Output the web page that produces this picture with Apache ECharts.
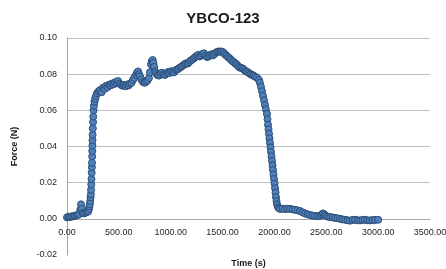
<!DOCTYPE html>
<html>
<head>
<meta charset="utf-8">
<script src="https://cdn.jsdelivr.net/npm/echarts@6/dist/echarts.min.js"></script>
<style>
  html, body { margin: 0; padding: 0; background: #fff; }
  #chart { width: 446px; height: 269px; }
</style>
</head>
<body>
<div id="chart"></div>
<script>
  // readings, one pair of arrays per stretch: time (s), force (N)
  const baseTimes = [0, 15, 30, 45, 60, 75, 90, 105, 118, 128, 135, 142, 150, 165, 180, 195, 205]
  const baseForces = [0.0008, 0.0012, 0.0010, 0.0014, 0.0013, 0.0017, 0.0019, 0.0022, 0.0026, 0.0050, 0.0080, 0.0055, 0.0032, 0.0030, 0.0034, 0.0038, 0.0042]

  const riseTimes = [212, 216, 220, 224, 227, 230, 232, 234, 236, 238, 240, 241, 243, 244, 245, 246, 247, 249, 251, 253, 256, 260, 265, 272, 280]
  const riseForces = [0.0055, 0.0068, 0.0080, 0.0098, 0.0118, 0.0135, 0.0160, 0.0190, 0.0220, 0.0255, 0.0285, 0.0310, 0.0345, 0.0375, 0.0405, 0.0435, 0.0465, 0.0500, 0.0535, 0.0565, 0.0600, 0.0625, 0.0648, 0.0665, 0.0680]

  const plateauTimes = [
    290, 305, 318, 333, 347, 362, 376, 390, 405, 420, 434, 448, 463, 478, 492, 507, 521, 536, 550, 565,
    578, 593, 607, 622, 636, 650, 665, 675, 685, 695, 704, 718, 733, 748, 762, 776, 790, 800, 810, 818,
    826, 833, 841, 850, 858, 872, 887, 901, 916, 930, 945, 960, 974, 988, 1003, 1018, 1032, 1046, 1061, 1075,
    1090, 1104, 1118, 1133, 1147, 1162, 1176, 1190, 1205, 1220, 1234, 1248, 1263, 1278, 1292, 1306, 1321, 1335, 1350, 1365,
    1379, 1394, 1408, 1422, 1437, 1452, 1466, 1480, 1494, 1509, 1523, 1538, 1552, 1567, 1581, 1596, 1610, 1625, 1639, 1654,
    1668, 1683, 1697, 1712, 1726, 1740, 1755, 1770, 1784, 1798, 1813, 1832
  ]
  const plateauForces = [
    0.0695, 0.0705, 0.0712, 0.0700, 0.0725, 0.0718, 0.0735, 0.0728, 0.0742, 0.0738, 0.0748, 0.0744, 0.0755, 0.0750, 0.0762, 0.0748, 0.0741, 0.0736, 0.0740, 0.0733,
    0.0742, 0.0738, 0.0748, 0.0752, 0.0768, 0.0780, 0.0795, 0.0808, 0.0815, 0.0800, 0.0788, 0.0770, 0.0756, 0.0752, 0.0758, 0.0765, 0.0778, 0.0810, 0.0855, 0.0872,
    0.0878, 0.0862, 0.0840, 0.0815, 0.0805, 0.0795, 0.0792, 0.0800, 0.0808, 0.0798, 0.0796, 0.0805, 0.0812, 0.0806, 0.0816, 0.0812, 0.0810, 0.0822, 0.0826, 0.0830,
    0.0837, 0.0842, 0.0848, 0.0855, 0.0860, 0.0858, 0.0866, 0.0874, 0.0880, 0.0886, 0.0893, 0.0900, 0.0906, 0.0898, 0.0902, 0.0912, 0.0915, 0.0903, 0.0895, 0.0898,
    0.0906, 0.0910, 0.0904, 0.0912, 0.0920, 0.0924, 0.0926, 0.0924, 0.0925, 0.0918, 0.0910, 0.0902, 0.0895, 0.0888, 0.0880, 0.0872, 0.0866, 0.0858, 0.0852, 0.0842,
    0.0836, 0.0834, 0.0830, 0.0822, 0.0815, 0.0812, 0.0806, 0.0800, 0.0796, 0.0792, 0.0786, 0.0780
  ]

  const fallTimes = [1851, 1860, 1870, 1880, 1890, 1900, 1909, 1918, 1928, 1933, 1938, 1943, 1948, 1952, 1957, 1962, 1967, 1972, 1977, 1982, 1986, 1991, 1996, 2001, 2006, 2011, 2015, 2020, 2025, 2034, 2044]
  const fallForces = [0.0768, 0.0752, 0.0730, 0.0706, 0.0680, 0.0655, 0.0630, 0.0605, 0.0580, 0.0550, 0.0520, 0.0495, 0.0470, 0.0445, 0.0420, 0.0395, 0.0370, 0.0345, 0.0320, 0.0295, 0.0270, 0.0245, 0.0220, 0.0195, 0.0170, 0.0145, 0.0120, 0.0098, 0.0080, 0.0066, 0.0058]

  const tailTimes = [
    2054, 2078, 2102, 2126, 2150, 2174, 2198, 2222, 2247, 2271, 2295, 2319, 2343, 2367, 2391, 2415, 2439, 2455, 2468, 2482, 2497,
    2516, 2536, 2560, 2584, 2608, 2632, 2656, 2680, 2705, 2729, 2753, 2777, 2801, 2825, 2849, 2873, 2897, 2921, 2945, 2970, 3000
  ]
  const tailForces = [
    0.0055, 0.0056, 0.0054, 0.0056, 0.0055, 0.0052, 0.0050, 0.0047, 0.0043, 0.0036, 0.0030, 0.0025, 0.0021, 0.0018, 0.0016, 0.0015, 0.0016, 0.0022, 0.0030, 0.0024, 0.0016,
    0.0012, 0.0010, 0.0008, 0.0005, 0.0003, 0.0000, -0.0003, -0.0005, -0.0008, -0.0010, -0.0006, -0.0005, -0.0008, -0.0009, -0.0006, -0.0005, -0.0008, -0.0009, -0.0007, -0.0006, -0.0005
  ]

  const xTicks = [0, 500, 1000, 1500, 2000, 2500, 3000, 3500]
  const yTicks = [-0.02, 0, 0.02, 0.04, 0.06, 0.08, 0.10]

  const times = [...baseTimes, ...riseTimes, ...plateauTimes, ...fallTimes, ...tailTimes]
  const forces = [...baseForces, ...riseForces, ...plateauForces, ...fallForces, ...tailForces]
  const points = times.map((t, i) => [t, forces[i]])

  const fmt = v => (Math.abs(v) < 1e-9 ? 0 : v).toFixed(2)
  const font = 'Liberation Sans'

  const chart = echarts.init(document.getElementById('chart'), null, { renderer: 'canvas' })
  chart.setOption({
    animation: false,
    title: {
      text: 'YBCO-123',
      left: 'center',
      top: 6,
      textStyle: { fontFamily: font, fontSize: 15, fontWeight: 'bold', color: '#1a1a1a' }
    },
    grid: { left: 67, right: 16, top: 38, bottom: 14, containLabel: false, outerBoundsMode: 'none' },
    xAxis: {
      type: 'value',
      min: xTicks[0],
      max: xTicks[xTicks.length - 1],
      interval: 500,
      // excel puts the category axis on y = 0, so lift it off the bottom edge
      offset: -36.2,
      name: 'Time (s)',
      nameLocation: 'middle',
      nameGap: 40,
      nameTextStyle: { fontFamily: font, fontSize: 9, fontWeight: 'bold', color: '#1a1a1a' },
      axisLine: { onZero: false, lineStyle: { color: '#a6a6a6', width: 1 } },
      axisTick: { show: false },
      axisLabel: { formatter: fmt, fontFamily: font, fontSize: 9, color: '#262626', margin: 9 },
      splitLine: { show: false }
    },
    yAxis: {
      type: 'value',
      min: yTicks[0],
      max: yTicks[yTicks.length - 1],
      interval: 0.02,
      name: 'Force (N)',
      nameLocation: 'middle',
      nameGap: 48,
      nameTextStyle: { fontFamily: font, fontSize: 9, fontWeight: 'bold', color: '#1a1a1a' },
      axisLine: { show: true, onZero: false, lineStyle: { color: '#a6a6a6', width: 1 } },
      axisTick: { show: false },
      axisLabel: { formatter: fmt, fontFamily: font, fontSize: 9, color: '#262626', margin: 10 },
      splitLine: {
        show: true,
        lineStyle: { color: ['transparent', '#bfbfbf', '#bfbfbf', '#bfbfbf', '#bfbfbf', '#bfbfbf', '#bfbfbf'], width: 1 }
      }
    },
    series: [{
      type: 'line',
      data: points,
      symbol: 'circle',
      symbolSize: 7,
      showAllSymbol: true,
      lineStyle: { color: '#4a7ebb', width: 3 },
      itemStyle: { color: '#4f81bd', borderColor: '#2c4d75', borderWidth: 1 }
    }]
  })
</script>
</body>
</html>
